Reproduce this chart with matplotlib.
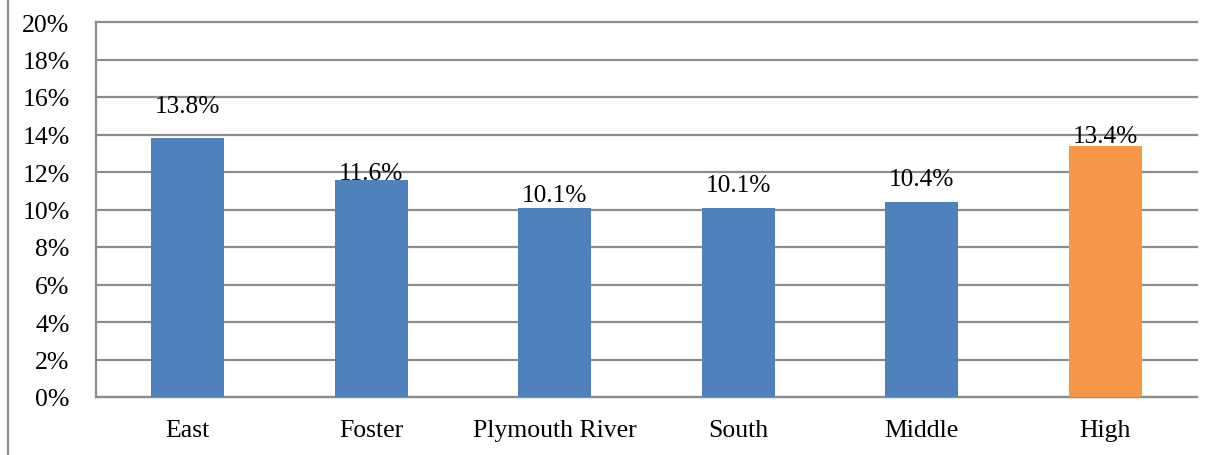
import matplotlib
matplotlib.use("Agg")
import matplotlib.pyplot as plt
from matplotlib.lines import Line2D
from matplotlib.ticker import PercentFormatter

# School-level rates (%)
schools = ["East", "Foster", "Plymouth River", "South", "Middle", "High"]
rates = [13.8, 11.6, 10.1, 10.1, 10.4, 13.4]
bar_colors = ["#4F81BD", "#4F81BD", "#4F81BD", "#4F81BD", "#4F81BD", "#F79646"]
# baseline of each value label above its bar top, in points
label_offsets = [18.7, 0.4, 5.0, 12.2, 12.2, 2.9]

plt.rcParams["font.family"] = ["Liberation Serif", "DejaVu Serif"]

fig = plt.figure(figsize=(12.17, 4.56), dpi=100)
ax = fig.add_axes([96 / 1217, 58 / 456, 1101 / 1217, 375 / 456])

x = range(len(schools))
ax.bar(x, rates, width=0.4, color=bar_colors, zorder=3)

for xi, v, off in zip(x, rates, label_offsets):
    ax.annotate(f"{v:.1f}%", (xi, v), xytext=(0, off), textcoords="offset points",
                ha="center", va="baseline", fontsize=18.3, zorder=4)

ax.set_xlim(-0.5, len(schools) - 0.5)
ax.set_ylim(0, 20)
ax.set_yticks(range(0, 21, 2))
ax.yaxis.set_major_formatter(PercentFormatter(decimals=0))
ax.set_xticks(list(x))
ax.set_xticklabels(schools)
ax.tick_params(axis="both", length=0, labelsize=18.5)
ax.tick_params(axis="y", pad=19)
ax.tick_params(axis="x", pad=15.5)

ax.grid(axis="y", color="#8c8c8c", linewidth=1.6, zorder=0)
for gl in ax.get_ygridlines():
    gl.set_clip_on(False)
ax.set_axisbelow(True)
for side in ("top", "right"):
    ax.spines[side].set_visible(False)
for side in ("left", "bottom"):
    ax.spines[side].set_color("#8c8c8c")
    ax.spines[side].set_linewidth(1.6)

# outer frame line on the left edge
fig.add_artist(Line2D([7.5 / 1217, 7.5 / 1217], [0, 1], color="#8c8c8c", linewidth=1.6,
                      transform=fig.transFigure))

fig.savefig("out.png", dpi=100)
